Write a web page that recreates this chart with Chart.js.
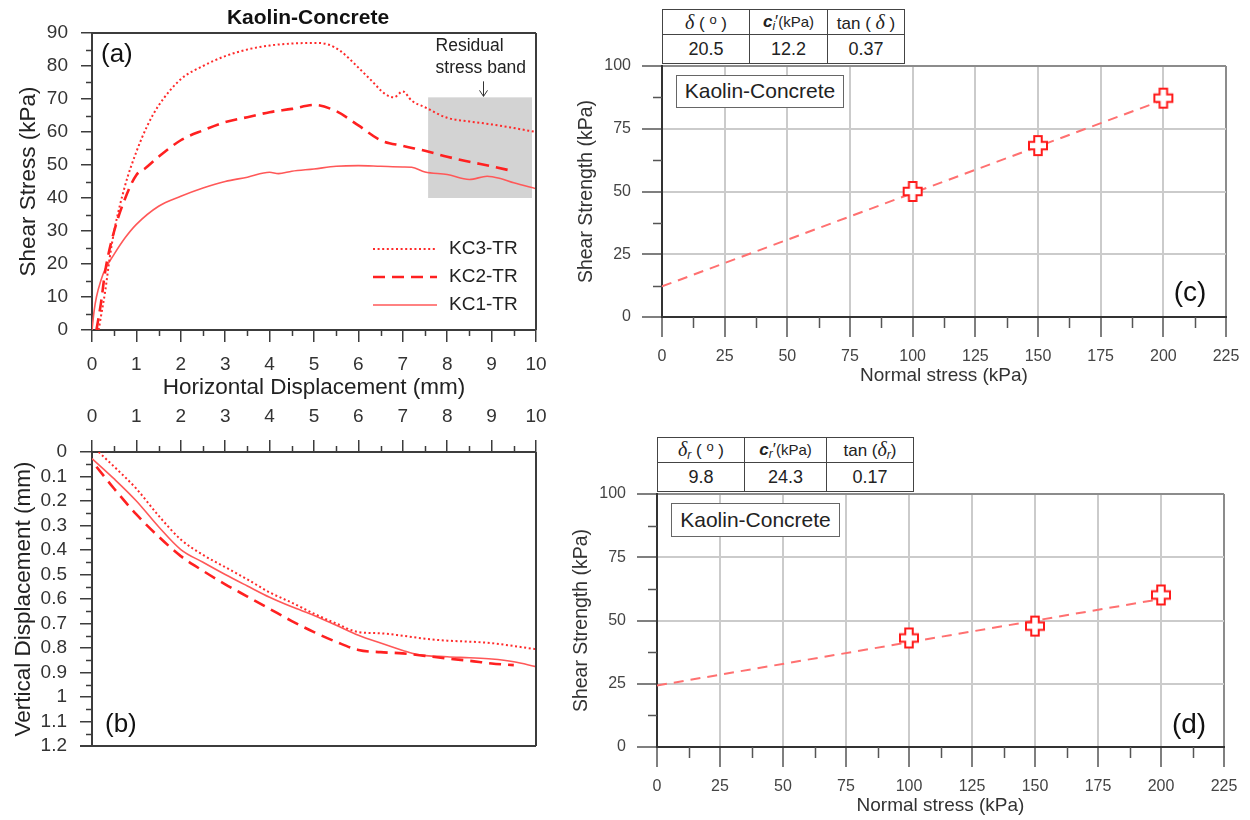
<!doctype html>
<html>
<head>
<meta charset="utf-8" />
<title>Kaolin-Concrete | interface shear tests</title>
<script src="https://cdn.jsdelivr.net/npm/chart.js@4.4.1/dist/chart.umd.min.js"></script>
<style>
  html, body { margin: 0; padding: 0; background: #fff; }
  #fig { position: relative; width: 1250px; height: 820px; overflow: hidden;
         font-family: "Liberation Sans", Arial, sans-serif; color: #222; }
  canvas { position: absolute; }
  .tbl { position: absolute; border-collapse: collapse; background: #fff; table-layout: fixed; }
  .tbl td { border: 1.5px solid #444; text-align: center; padding: 0; line-height: 1; white-space: nowrap; }
  .tbl tr.h td { height: 24px; font-size: 17px; }
  .tbl tr.v td { height: 28px; font-size: 18px; }
  .gk { font-family: "Liberation Serif", "DejaVu Serif", serif; font-style: italic; font-size: 20px; }
  .sm { font-size: 15px; }
  .tbl sub { font-size: 12px; vertical-align: -3px; }
  .tbl sup { font-size: 13px; vertical-align: 5px; }
  .box { position: absolute; border: 1.5px solid #666; background: #fff; box-sizing: border-box;
         font-size: 21px; text-align: center; color: #222; }
  .lbl { position: absolute; font-size: 28px; transform: translate(-50%, -50%); color: #111; }
</style>
</head>
<body>
<div id="fig">
  <canvas id="chartA" width="560" height="404" style="left:0;top:0"></canvas>
  <canvas id="chartB" width="560" height="420" style="left:0;top:400px"></canvas>
  <canvas id="chartC" width="690" height="400" style="left:560px;top:0"></canvas>
  <canvas id="chartD" width="690" height="390" style="left:560px;top:430px"></canvas>

  <table class="tbl" id="tblC" style="left:662px;top:9px;width:242px">
    <colgroup><col style="width:87px"><col style="width:78px"><col style="width:77px"></colgroup>
    <tr class="h">
      <td><span class="gk">δ</span> ( <sup>o</sup> )</td>
      <td><b><i>c</i></b><sub><i>i</i></sub>′<span class="sm">(kPa)</span></td>
      <td>tan ( <span class="gk">δ</span> )</td>
    </tr>
    <tr class="v"><td></td><td></td><td></td></tr>
  </table>
  <table class="tbl" id="tblD" style="left:657px;top:437px;width:256px">
    <colgroup><col style="width:87px"><col style="width:82px"><col style="width:87px"></colgroup>
    <tr class="h">
      <td><span class="gk">δ</span><sub><i>r</i></sub> ( <sup>o</sup> )</td>
      <td><b><i>c</i></b><sub><i>r</i></sub>′<span class="sm">(kPa)</span></td>
      <td>tan (<span class="gk">δ</span><sub><i>r</i></sub>)</td>
    </tr>
    <tr class="v"><td></td><td></td><td></td></tr>
  </table>

  <div class="box" style="left:676px;top:75px;width:168px;height:33px;line-height:30px">Kaolin-Concrete</div>
  <div class="box" style="left:671px;top:503px;width:169px;height:34px;line-height:31px">Kaolin-Concrete</div>
  <div class="lbl" style="left:1190px;top:292px">(c)</div>
  <div class="lbl" style="left:1189px;top:724px">(d)</div>
</div>

<script>
// ---------------- data ----------------
const seriesNames = ["KC3-TR", "KC2-TR", "KC1-TR"];

// (a) shear stress (kPa) vs horizontal displacement (mm)
const kc3ShearX = [0.15, 0.2, 0.3, 0.4, 0.5, 0.75, 1, 1.25, 1.5, 2, 2.5, 3, 3.5, 4, 4.5, 5, 5.3, 5.6, 6, 6.3, 6.6, 6.8, 7, 7.2, 7.5, 8, 8.5, 9, 9.5, 10];
const kc3ShearY = [0, 4, 12, 22, 30, 44, 54, 62, 68, 76, 80, 83, 85, 86.2, 86.8, 87, 86.6, 84.5, 79.5, 75.5, 71.5, 70.5, 72.3, 69.5, 67.5, 64.3, 63.2, 62.3, 61.2, 60];
const kc2ShearX = [0.1, 0.2, 0.3, 0.5, 0.75, 1, 1.2, 1.5, 2, 2.5, 3, 3.5, 4, 4.5, 5, 5.5, 6, 6.5, 7, 7.5, 8, 8.5, 9, 9.5];
const kc2ShearY = [0, 8, 18, 30, 40, 47, 49, 52.5, 57.5, 60.5, 63, 64.5, 66, 67, 68.2, 66.3, 62, 57.5, 55.8, 54.3, 52.5, 51, 49.6, 48.1];
const kc1ShearX = [0, 0.05, 0.1, 0.2, 0.3, 0.5, 0.75, 1, 1.5, 2, 2.5, 3, 3.5, 4, 4.2, 4.5, 5, 5.5, 6, 6.5, 7, 7.2, 7.5, 8, 8.5, 8.9, 9.2, 9.5, 10];
const kc1ShearY = [0, 6, 10, 15, 18.5, 23, 28, 32, 37.5, 40.5, 43, 45, 46.3, 47.8, 47.4, 48.1, 48.8, 49.6, 49.8, 49.6, 49.4, 49.3, 47.9, 47.1, 45.6, 46.6, 45.9, 44.6, 42.8];

// residual stress band (mm, kPa)
const bandX = [7.57, 9.91];
const bandY = [40, 70.5];

// (b) vertical displacement (mm) vs horizontal displacement (mm)
const kc3VertX = [0.15, 0.5, 1, 1.5, 2, 2.5, 3, 3.5, 4, 4.5, 5, 5.5, 6, 6.5, 7, 7.5, 8, 8.5, 9, 9.5, 10];
const kc3VertY = [0, 0.06, 0.15, 0.26, 0.357, 0.42, 0.47, 0.52, 0.573, 0.615, 0.66, 0.7, 0.735, 0.74, 0.75, 0.762, 0.77, 0.774, 0.78, 0.792, 0.805];
const kc2VertX = [0.1, 0.5, 1, 1.5, 2, 2.5, 3, 3.5, 4, 4.5, 5, 5.5, 6, 6.5, 7, 7.5, 8, 8.5, 9, 9.5];
const kc2VertY = [0.06, 0.15, 0.255, 0.345, 0.425, 0.485, 0.54, 0.59, 0.64, 0.69, 0.735, 0.775, 0.808, 0.817, 0.822, 0.832, 0.843, 0.852, 0.863, 0.87];
const kc1VertX = [0, 0.5, 1, 1.5, 2, 2.5, 3, 3.5, 4, 4.5, 5, 5.5, 6, 6.5, 7, 7.3, 8, 8.5, 9, 9.5, 10];
const kc1VertY = [0.027, 0.11, 0.2, 0.305, 0.398, 0.45, 0.5, 0.547, 0.593, 0.632, 0.667, 0.707, 0.748, 0.78, 0.81, 0.826, 0.836, 0.84, 0.845, 0.856, 0.876];

// (c) peak strength envelope
const peakNormal = [100, 150, 200];
const peakStrength = [50, 68.3, 87.2];
const peakFitX = [0, 200];
const peakFitY = [12.2, 86.5];
const peakParams = ["20.5", "12.2", "0.37"];

// (d) residual strength envelope
const resNormal = [100, 150, 200];
const resStrength = [43.1, 47.8, 60.1];
const resFitX = [0, 200];
const resFitY = [24.3, 58.5];
const resParams = ["9.8", "24.3", "0.17"];

// ---------------- helpers ----------------
const toXY = (xs, ys) => xs.map((x, i) => ({ x: x, y: ys[i] }));
const FONT = "'Liberation Sans', Arial, sans-serif";
Chart.defaults.font.family = FONT;
Chart.defaults.color = "#333";
Chart.defaults.animation = false;

const axisColor = "#3c3c3c";

function fillTable(id, values) {
	const cells = document.querySelectorAll("#" + id + " tr.v td");
	values.forEach((v, i) => (cells[i].textContent = v));
}
fillTable("tblC", peakParams);
fillTable("tblD", resParams);

function plusMarker(w, h, arm, color) {
	const c = document.createElement("canvas");
	c.width = w + 4;
	c.height = h + 4;
	const g = c.getContext("2d");
	const ox = 2 + (w - arm) / 2, oy = 2 + (h - arm) / 2;
	g.beginPath();
	g.moveTo(ox, 2);
	g.lineTo(ox + arm, 2);
	g.lineTo(ox + arm, oy);
	g.lineTo(2 + w, oy);
	g.lineTo(2 + w, oy + arm);
	g.lineTo(ox + arm, oy + arm);
	g.lineTo(ox + arm, 2 + h);
	g.lineTo(ox, 2 + h);
	g.lineTo(ox, oy + arm);
	g.lineTo(2, oy + arm);
	g.lineTo(2, oy);
	g.lineTo(ox, oy);
	g.closePath();
	g.fillStyle = "#fff";
	g.fill();
	g.strokeStyle = color;
	g.lineWidth = 2;
	g.stroke();
	return c;
}

// ---------------- plugins ----------------
const minorTicks = {
	id: "minorTicks",
	afterDraw(chart, args, opts) {
		const ctx = chart.ctx;
		ctx.save();
		ctx.strokeStyle = opts.color;
		ctx.lineWidth = opts.width;
		ctx.beginPath();
		for (const a of opts.axes) {
			const s = chart.scales[a.id];
			const n = Math.round((s.max - s.min) / a.step);
			for (let i = 1; i < n; i += 2) {
				const p = Math.round(s.getPixelForValue(s.min + i * a.step)) + 0.5;
				if (s.position === "bottom") {
					ctx.moveTo(p, s.top);
					ctx.lineTo(p, s.top + a.len);
				} else if (s.position === "top") {
					ctx.moveTo(p, s.bottom);
					ctx.lineTo(p, s.bottom - a.len);
				} else {
					ctx.moveTo(s.right, p);
					ctx.lineTo(s.right - a.len, p);
				}
			}
		}
		ctx.stroke();
		ctx.restore();
	},
};

const frame = {
	id: "frame",
	afterDatasetsDraw(chart, args, opts) {
		if (!opts.sides) return;
		const { ctx, chartArea: c } = chart;
		ctx.save();
		ctx.strokeStyle = opts.color;
		ctx.lineWidth = opts.width;
		ctx.beginPath();
		if (opts.sides.includes("top")) { ctx.moveTo(c.left, c.top); ctx.lineTo(c.right, c.top); }
		if (opts.sides.includes("right")) { ctx.moveTo(c.right, c.top); ctx.lineTo(c.right, c.bottom); }
		if (opts.sides.includes("bottom")) { ctx.moveTo(c.left - (opts.extendLeft || 0), c.bottom); ctx.lineTo(c.right, c.bottom); }
		ctx.stroke();
		ctx.restore();
	},
};

const notes = {
	id: "notes",
	afterDraw(chart, args, opts) {
		const ctx = chart.ctx;
		ctx.save();
		for (const t of opts.items || []) {
			ctx.font = t.font;
			ctx.fillStyle = t.color || "#222";
			ctx.textAlign = t.align || "left";
			ctx.textBaseline = "middle";
			ctx.fillText(t.text, t.x, t.y);
		}
		ctx.restore();
	},
};

const band = {
	id: "band",
	beforeDatasetsDraw(chart, args, opts) {
		if (!opts.x) return;
		const { ctx, scales: { x, y } } = chart;
		const x0 = x.getPixelForValue(opts.x[0]), x1 = x.getPixelForValue(opts.x[1]);
		const y0 = y.getPixelForValue(opts.y[1]), y1 = y.getPixelForValue(opts.y[0]);
		ctx.save();
		ctx.fillStyle = opts.color;
		ctx.fillRect(x0, y0, x1 - x0, y1 - y0);
		// label + arrow
		ctx.fillStyle = "#222";
		ctx.font = "17.5px " + FONT;
		ctx.textBaseline = "middle";
		ctx.textAlign = "left";
		ctx.fillText("Residual", x0 + 7.5, y0 - 51);
		ctx.fillText("stress band", x0 + 7.5, y0 - 29);
		const ax = Math.round(x0 + 54.5) + 0.5;
		ctx.strokeStyle = "#333";
		ctx.lineWidth = 1;
		ctx.beginPath();
		ctx.moveTo(ax, y0 - 16);
		ctx.lineTo(ax, y0 - 1);
		ctx.moveTo(ax - 4, y0 - 7);
		ctx.lineTo(ax, y0 - 1);
		ctx.lineTo(ax + 4, y0 - 7);
		ctx.stroke();
		ctx.restore();
	},
};

const lineLegend = {
	id: "lineLegend",
	afterDraw(chart, args, opts) {
		if (opts.x === undefined) return;
		const ctx = chart.ctx;
		ctx.save();
		chart.data.datasets.forEach((ds, i) => {
			const y = opts.y + i * opts.gap;
			ctx.strokeStyle = ds.borderColor;
			ctx.lineWidth = ds.borderWidth;
			ctx.setLineDash(ds.borderDash || []);
			ctx.beginPath();
			ctx.moveTo(opts.x, y);
			ctx.lineTo(opts.x + opts.len, y);
			ctx.stroke();
			ctx.setLineDash([]);
			ctx.fillStyle = "#222";
			ctx.font = "19px " + FONT;
			ctx.textBaseline = "middle";
			ctx.fillText(ds.label, opts.x + opts.len + 12, y);
		});
		ctx.restore();
	},
};

// three curves sharing one style set
function curveSets(xs, ys) {
	const styles = [
		{ borderColor: "#ff2a2a", borderWidth: 2, borderDash: [2, 2.6] },
		{ borderColor: "#ff2020", borderWidth: 2.6, borderDash: [12, 7] },
		{ borderColor: "#ff5858", borderWidth: 1.6, borderDash: [] },
	];
	return styles.map((s, i) => Object.assign({
		label: seriesNames[i],
		data: toXY(xs[i], ys[i]),
		pointRadius: 0,
		cubicInterpolationMode: "monotone",
		fill: false,
	}, s));
}

const leftTicks = { color: "#333", font: { size: 19 }, autoSkip: false, maxRotation: 0 };

// ---------------- (a) shear stress ----------------
new Chart(document.getElementById("chartA"), {
	type: "line",
	data: { datasets: curveSets([kc3ShearX, kc2ShearX, kc1ShearX], [kc3ShearY, kc2ShearY, kc1ShearY]) },
	options: {
		responsive: false,
		layout: { padding: { top: 33, right: 24, left: 0, bottom: 0 } },
		plugins: {
			legend: { display: false },
			tooltip: { enabled: false },
			minorTicks: { color: axisColor, width: 1.5, axes: [{ id: "x", step: 0.5, len: 6 }, { id: "y", step: 5, len: 6 }] },
			frame: { color: axisColor, width: 2, sides: ["top", "right"] },
			band: { x: bandX, y: bandY, color: "#d3d3d3" },
			lineLegend: { x: 373, y: 249, gap: 28, len: 64 },
			notes: { items: [
				{ text: "Kaolin-Concrete", x: 308, y: 18, align: "center", font: "bold 21px " + FONT, color: "#111" },
				{ text: "(a)", x: 101, y: 55, font: "26px " + FONT, color: "#111" },
			] },
		},
		scales: {
			x: {
				type: "linear", min: 0, max: 10,
				ticks: Object.assign({ stepSize: 1, padding: 11 }, leftTicks),
				grid: { drawOnChartArea: false, tickLength: 12, color: axisColor, lineWidth: 1.5 },
				border: { color: axisColor, width: 2 },
				title: { display: true, text: "Horizontal Displacement (mm)", color: "#222", font: { size: 22.5 }, padding: { top: 0, bottom: 2.5 } },
				afterFit: (s) => { s.height = 74; },
			},
			y: {
				type: "linear", min: 0, max: 90,
				ticks: Object.assign({ stepSize: 10, padding: 13 }, leftTicks),
				grid: { drawOnChartArea: false, tickLength: 11, color: axisColor, lineWidth: 1.5 },
				border: { color: axisColor, width: 2 },
				title: { display: true, text: "Shear Stress (kPa)", color: "#222", font: { size: 22.5 }, padding: { top: 15, bottom: 0 } },
				afterFit: (s) => { s.width = 92; },
			},
		},
	},
	plugins: [band, minorTicks, frame, lineLegend, notes],
});

// ---------------- (b) vertical displacement ----------------
new Chart(document.getElementById("chartB"), {
	type: "line",
	data: { datasets: curveSets([kc3VertX, kc2VertX, kc1VertX], [kc3VertY, kc2VertY, kc1VertY]) },
	options: {
		responsive: false,
		layout: { padding: { top: 0, right: 24, left: 0, bottom: 74 } },
		plugins: {
			legend: { display: false },
			tooltip: { enabled: false },
			minorTicks: { color: axisColor, width: 1.5, axes: [{ id: "x", step: 0.5, len: 6 }, { id: "y", step: 0.05, len: 6 }] },
			frame: { color: axisColor, width: 2, sides: ["right", "bottom"], extendLeft: 12 },
			notes: { items: [{ text: "(b)", x: 105, y: 325, font: "26px " + FONT, color: "#111" }] },
		},
		scales: {
			x: {
				type: "linear", position: "top", min: 0, max: 10,
				ticks: Object.assign({ stepSize: 1, padding: 12 }, leftTicks),
				grid: { drawOnChartArea: false, tickLength: 12, color: axisColor, lineWidth: 1.5 },
				border: { color: axisColor, width: 2 },
				afterFit: (s) => { s.height = 52; },
			},
			y: {
				type: "linear", reverse: true, min: 0, max: 1.2,
				ticks: Object.assign({ stepSize: 0.1, padding: 13, callback: (v) => String(+v.toFixed(2)) }, leftTicks),
				grid: { drawOnChartArea: false, tickLength: 12, color: axisColor, lineWidth: 1.5 },
				border: { color: axisColor, width: 2 },
				title: { display: true, text: "Vertical Displacement (mm)", color: "#222", font: { size: 22.5 }, padding: { top: 10.5, bottom: 0 } },
				afterFit: (s) => { s.width = 92; },
			},
		},
	},
	plugins: [minorTicks, frame, notes],
});

// ---------------- (c) / (d) strength envelopes ----------------
const plusImg = plusMarker(18, 19, 7.5, "#ff1a1a");

function envelopeChart(id, normal, strength, fitX, fitY, dims) {
	return new Chart(document.getElementById(id), {
		type: "scatter",
		data: {
			datasets: [
				{
					label: "tests",
					data: toXY(normal, strength),
					pointStyle: plusImg,
					order: 0,
				},
				{
					label: "envelope",
					type: "line",
					data: toXY(fitX, fitY),
					showLine: true,
					pointRadius: 0,
					borderColor: "#ff7070",
					borderWidth: 2,
					borderDash: [10, 7],
					order: 1,
				},
			],
		},
		options: {
			responsive: false,
			layout: { padding: { top: dims.top, right: dims.right, left: 0, bottom: 0 } },
			plugins: {
				legend: { display: false },
				tooltip: { enabled: false },
				minorTicks: { color: "#555", width: 1.5, axes: [{ id: "x", step: 12.5, len: 11 }, { id: "y", step: 12.5, len: 9 }] },
			},
			scales: {
				x: {
					type: "linear", min: 0, max: 225,
					ticks: { stepSize: 25, padding: 10, color: "#444", font: { size: 16 }, autoSkip: false, maxRotation: 0 },
					grid: {
						color: (c) => (c.tick && c.tick.value === 225 ? "#8c8c8c" : "#cbcbcb"),
						lineWidth: 2, tickColor: "#555", tickWidth: 1.5, tickLength: 20,
					},
					border: { color: "#333", width: 2 },
					title: { display: true, text: "Normal stress (kPa)", color: "#333", font: { size: 19 }, padding: { top: 0, bottom: dims.titleBottom } },
					afterFit: (s) => { s.height = dims.xh; },
				},
				y: {
					type: "linear", min: 0, max: 100,
					ticks: { stepSize: 25, padding: dims.yPad, color: "#444", font: { size: 16 } },
					grid: {
						color: (c) => (c.tick && c.tick.value === 100 ? "#8c8c8c" : "#cbcbcb"),
						lineWidth: 2, tickColor: "#555", tickWidth: 1.5, tickLength: 20,
					},
					border: { color: "#333", width: 2 },
					title: { display: true, text: "Shear Strength (kPa)", color: "#333", font: { size: 19.5 }, padding: { top: dims.titleLeft, bottom: 0 } },
					afterFit: (s) => { s.width = dims.yw; },
				},
			},
		},
		plugins: [minorTicks],
	});
}

envelopeChart("chartC", peakNormal, peakStrength, peakFitX, peakFitY,
	{ top: 66, right: 24, xh: 83, yw: 102, yPad: 11, titleBottom: 13, titleLeft: 15.3 });
envelopeChart("chartD", resNormal, resStrength, resFitX, resFitY,
	{ top: 64, right: 26, xh: 73, yw: 97, yPad: 11, titleBottom: 3, titleLeft: 10.3 });
</script>
</body>
</html>
